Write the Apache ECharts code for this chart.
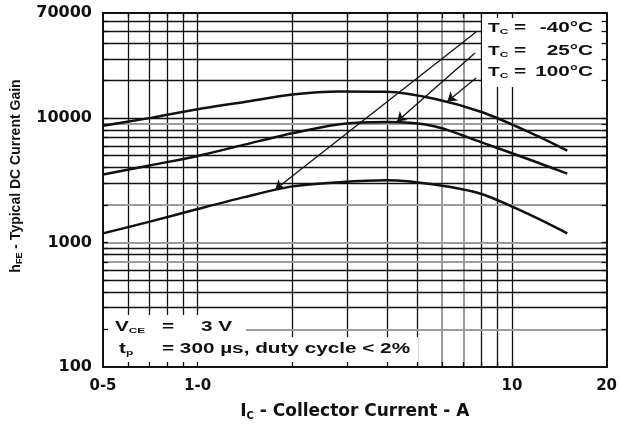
<!DOCTYPE html>
<html><head><meta charset="utf-8">
<script src="https://cdn.jsdelivr.net/npm/echarts@6/dist/echarts.min.js"></script>
<style>html,body{margin:0;padding:0;background:#fff}#c{width:620px;height:426px}</style>
</head><body><div id="c"></div>
<script>
// ---- data ----
const currents = [0.5, 0.71, 1.0, 1.41, 2.0, 2.83, 4.0, 5.66, 8.0, 11.3, 15];
const gain100 = [8690, 10050, 11800, 13500, 15500, 16400, 16280, 14300, 11200, 7750, 5480];
const gain25  = [3520, 4190, 4970, 6130, 7560, 8940, 9300, 8610, 6390, 4670, 3585];
const gainM40 = [1185, 1480, 1860, 2320, 2830, 3060, 3170, 2930, 2460, 1690, 1185];
const tempLabels = ['-40°C', '25°C', '100°C'];
// leader lines: label end -> curve point [current, gain]
const leaderFrom = [[7.69, 49200], [7.63, 33400], [7.69, 21000]];
const leaderTo   = [[1.765, 2670], [4.31, 9410], [6.23, 13600]];
const xTickValues = [0.5, 1, 10, 20];
const xTickLabels = ['0-5', '1-0', '10', '20'];
const yTickValues = [100, 1000, 10000, 70000];
const yTickLabels = ['100', '1000', '10000', '70000'];
const xGridLines = [0.6, 0.7, 0.8, 0.9, 1, 2, 3, 4, 5, 6, 7, 8, 9, 10];
const xGrayLines = [6, 7];
const yGridLines = [200, 300, 400, 500, 600, 700, 800, 900, 1000, 2000, 3000, 4000, 5000, 6000, 7000, 8000, 9000, 10000, 20000, 30000, 40000, 50000, 60000];
const yGrayLines = [200, 700, 1000, 2000, 9000];
const xName = ['I', 'C', ' - Collector Current - A'];
const yName = ['h', 'FE', ' - Typical DC Current Gain'];
const noteV = ['V', 'CE', '=', '3 V'];
const noteT = ['t', 'p', '= 300 µs, duty cycle < 2%'];

// ---- chart ----
const INK = '#111';
const TICKFONT = 'DejaVu Sans';
const ANNOFONT = 'Liberation Sans';
const chart = echarts.init(document.getElementById('c'), null, {renderer: 'canvas'});

function pickLabel(v, vals, labels) {
  let best = 0;
  for (let i = 1; i < vals.length; i++) if (Math.abs(Math.log(vals[i]) - Math.log(v)) < Math.abs(Math.log(vals[best]) - Math.log(v))) best = i;
  return labels[best];
}
const gridLine = (gray) => ({color: gray ? '#9c9c9c' : '#111', width: gray ? 2 : 1.3, type: 'solid'});
const gridMarks = [
  ...xGridLines.map(v => ({xAxis: v, lineStyle: gridLine(xGrayLines.includes(v))})),
  ...yGridLines.map(v => ({yAxis: v, lineStyle: gridLine(yGrayLines.includes(v))}))
];
const curve = (name, vals, idx) => ({
  type: 'line', name, z: 4, smooth: 0.3, symbol: 'none', silent: true,
  data: currents.map((x, i) => [x, vals[i]]),
  lineStyle: {color: INK, width: 2.5},
  markLine: {
    z: 5, silent: true, symbol: ['none', 'arrow'], symbolSize: 9,
    label: {show: false},
    lineStyle: {color: INK, width: 1.3, type: 'solid'},
    data: [[{coord: leaderFrom[idx]}, {coord: leaderTo[idx]}]]
  }
});
const subRich = (size, sub) => ({
  b: {fontFamily: ANNOFONT, fontWeight: 'bold', fontSize: size, fill: INK, lineHeight: 18},
  s: {fontFamily: ANNOFONT, fontWeight: 'bold', fontSize: sub, fill: INK, lineHeight: 18, padding: [7, 0, 0, 0]}
});
const SX = 1.48;
const annoText = (x, y, text, align, rich) => ({
  type: 'text', x, y, scaleX: SX, z: 6, silent: true,
  style: {text, fill: INK, fontFamily: ANNOFONT, fontWeight: 'bold', fontSize: 14,
    align: align || 'left', verticalAlign: 'middle', rich}
});
const legendRows = [28.5, 51, 72.5];
const graphics = [
  {type: 'rect', z: 3, silent: true, shape: {x: 482, y: 14, width: 126, height: 73}, style: {fill: '#fff'}},
  {type: 'rect', z: 3, silent: true, shape: {x: 102, y: 315, width: 144, height: 52}, style: {fill: '#fff'}},
  {type: 'rect', z: 3, silent: true, shape: {x: 102, y: 337, width: 316, height: 30}, style: {fill: '#fff'}}
];
tempLabels.forEach((t, i) => {
  graphics.push(annoText(488, legendRows[i], '{b|T}{s|C}', 'left', subRich(13, 8)));
  graphics.push(annoText(514, legendRows[i], '=', 'left'));
  graphics.push(annoText(593, legendRows[i], t, 'right'));
});
graphics.push(annoText(115, 327, '{b|' + noteV[0] + '}{s|' + noteV[1] + '}', 'left', subRich(14, 8)));
graphics.push(annoText(162, 327, noteV[2], 'left'));
graphics.push(annoText(201, 327, noteV[3], 'left'));
graphics.push(annoText(119, 349, '{b|' + noteT[0] + '}{s|' + noteT[1] + '}', 'left', subRich(14, 8)));
graphics.push(annoText(162, 349, noteT[2], 'left'));

const tickStyle = {color: INK, width: 1.3};
const axisLineStyle = {lineStyle: {color: INK, width: 2}};
const option = {
  animation: false,
  backgroundColor: '#fff',
  grid: {left: 101, right: 10, top: 13, bottom: 58, containLabel: false},
  xAxis: [{
    type: 'log', logBase: 10, min: 0.5, max: 20, position: 'bottom', z: 8,
    axisLine: {show: true, onZero: false, ...axisLineStyle},
    axisTick: {show: true, inside: true, length: 5, customValues: xGridLines, lineStyle: tickStyle},
    axisLabel: {show: true, customValues: xTickValues, margin: 12, color: INK,
      fontFamily: TICKFONT, fontWeight: 'bold', fontSize: 15,
      formatter: v => pickLabel(v, xTickValues, xTickLabels)},
    splitLine: {show: false}, minorTick: {show: false},
    name: '{b|' + xName[0] + '}{s|' + xName[1] + '}{b|' + xName[2] + '}',
    nameLocation: 'middle', nameGap: 35,
    nameTextStyle: {rich: {
      b: {fontFamily: TICKFONT, fontWeight: 'bold', fontSize: 17, color: INK, lineHeight: 20},
      s: {fontFamily: TICKFONT, fontWeight: 'bold', fontSize: 10, color: INK, lineHeight: 20, padding: [8, 0, 0, 0]}
    }}
  }, {
    type: 'log', logBase: 10, min: 0.5, max: 20, position: 'top', z: 8,
    axisLine: {show: true, onZero: false, ...axisLineStyle},
    axisTick: {show: true, inside: true, length: 5, customValues: xGridLines, lineStyle: tickStyle},
    axisLabel: {show: false}, splitLine: {show: false}
  }],
  yAxis: [{
    type: 'log', logBase: 10, min: 100, max: 70000, position: 'left', z: 8,
    axisLine: {show: true, onZero: false, ...axisLineStyle},
    axisTick: {show: true, inside: true, length: 5, customValues: yGridLines, lineStyle: tickStyle},
    axisLabel: {show: true, customValues: yTickValues, margin: 11, color: INK,
      fontFamily: TICKFONT, fontWeight: 'bold', fontSize: 16,
      formatter: v => pickLabel(v, yTickValues, yTickLabels)},
    splitLine: {show: false},
    name: '{b|' + yName[0] + '}{s|' + yName[1] + '}{b|' + yName[2] + '}',
    nameLocation: 'middle', nameGap: 78, nameRotate: 90,
    nameTextStyle: {padding: [0, 0, 0, 28], rich: {
      b: {fontFamily: ANNOFONT, fontWeight: 'bold', fontSize: 14, color: INK, lineHeight: 18},
      s: {fontFamily: ANNOFONT, fontWeight: 'bold', fontSize: 9, color: INK, lineHeight: 18, padding: [7, 0, 0, 0]}
    }}
  }, {
    type: 'log', logBase: 10, min: 100, max: 70000, position: 'right', z: 8,
    axisLine: {show: true, onZero: false, ...axisLineStyle},
    axisTick: {show: true, inside: true, length: 5, customValues: yGridLines, lineStyle: tickStyle},
    axisLabel: {show: false}, splitLine: {show: false}
  }],
  series: [
    {
      type: 'line', name: 'grid', z: 1, silent: true, symbol: 'none',
      data: [[1, 1000]], lineStyle: {opacity: 0},
      markLine: {z: 1, silent: true, symbol: 'none', label: {show: false}, data: gridMarks}
    },
    curve('Tc = 100°C', gain100, 2),
    curve('Tc = 25°C', gain25, 1),
    curve('Tc = -40°C', gainM40, 0)
  ],
  graphic: {elements: graphics}
};
chart.setOption(option);
</script>
</body></html>
